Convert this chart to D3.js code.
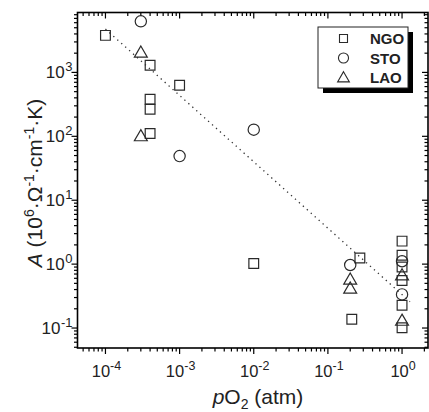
<!DOCTYPE html>
<html><head><meta charset="utf-8">
<script src="https://cdn.jsdelivr.net/npm/d3@7"></script>
<style>body{margin:0;background:#fff}svg{display:block}</style></head>
<body><svg id="c" width="429" height="412"></svg>
<script>
// Data
const ngoX = [1e-4, 4e-4, 1e-3, 4e-4, 4e-4, 4e-4, 0.01, 0.27, 0.21, 1, 1, 1, 1, 1, 1];
const ngoY = [3800, 1290, 630, 380, 265, 111, 1.02, 1.25, 0.137, 2.29, 1.38, 0.9, 0.556, 0.228, 0.101];
const stoX = [3e-4, 1e-3, 0.01, 0.2, 1, 1];
const stoY = [6300, 49, 127, 0.97, 1.11, 0.336];
const laoX = [3e-4, 3e-4, 0.2, 0.2, 1, 1];
const laoY = [2050, 101, 0.577, 0.417, 0.67, 0.131];
const fitX = [1e-4, 1.28];
const fitY = [4770, 0.258];
const xTickExp = [-4, -3, -2, -1, 0];
const yTickExp = [-1, 0, 1, 2, 3];
const legendNames = ["NGO", "STO", "LAO"];

const svg = d3.select("#c");
const L = 77.5, R = 428, T = 12.5, B = 348;
const x = d3.scaleLog().domain([Math.pow(10, -4.377), Math.pow(10, 0.35)]).range([L, R]);
const y = d3.scaleLog().domain([Math.pow(10, -1.3125), Math.pow(10, 3.9375)]).range([B, T]);
const ink = "#2a2a2a";

function logTicks(scale) {
  const [a, b] = scale.domain();
  const out = [];
  for (let e = Math.floor(Math.log10(a)); e <= Math.ceil(Math.log10(b)); e++) {
    for (let m = 1; m <= 9; m++) {
      const v = m * Math.pow(10, e);
      if (v >= a && v <= b) out.push({v, major: m === 1});
    }
  }
  return out;
}
const xt = logTicks(x), yt = logTicks(y);
const g = svg.append("g").attr("stroke", "#000").attr("stroke-width", 1.2);
xt.forEach(t => {
  const px = x(t.v);
  g.append("line").attr("x1", px).attr("x2", px).attr("y1", B).attr("y2", B + (t.major ? 6 : 3.5));
  g.append("line").attr("x1", px).attr("x2", px).attr("y1", T).attr("y2", T + (t.major ? 6 : 3.5));
});
yt.forEach(t => {
  const py = y(t.v);
  g.append("line").attr("y1", py).attr("y2", py).attr("x1", L).attr("x2", L - (t.major ? 6 : 3.5));
  g.append("line").attr("y1", py).attr("y2", py).attr("x1", R).attr("x2", R - (t.major ? 6 : 3.5));
});
svg.append("rect").attr("x", L).attr("y", T).attr("width", R - L).attr("height", B - T)
  .attr("fill", "none").attr("stroke", "#000").attr("stroke-width", 1.6);

const font = "Liberation Sans, Arial, sans-serif";
xTickExp.forEach(e => {
  const t = svg.append("text").attr("x", x(Math.pow(10, e)) + 1).attr("y", 377)
    .attr("text-anchor", "middle").attr("font-family", font).attr("font-size", 16.5).attr("fill", "#222");
  t.append("tspan").text("10");
  t.append("tspan").attr("dy", -7.5).attr("font-size", 12.5).text(e);
});
yTickExp.forEach(e => {
  const t = svg.append("text").attr("x", 72.5).attr("y", y(Math.pow(10, e)) + 6)
    .attr("text-anchor", "end").attr("font-family", font).attr("font-size", 17).attr("fill", "#222");
  t.append("tspan").text("10");
  t.append("tspan").attr("dy", -7.5).attr("font-size", 13).attr("dx", 0.5).text(e);
});

const xl = svg.append("text").attr("x", 258).attr("y", 404).attr("text-anchor", "middle")
  .attr("font-family", font).attr("font-size", 21).attr("fill", "#222");
xl.append("tspan").attr("font-style", "italic").text("p");
xl.append("tspan").text("O");
xl.append("tspan").attr("font-size", 14).attr("dy", 5).text("2");
xl.append("tspan").attr("dy", -5).text(" (atm)");

const yl = svg.append("text").attr("transform", "translate(42,183) rotate(-90)").attr("text-anchor", "middle")
  .attr("font-family", font).attr("font-size", 21).attr("fill", "#222");
yl.append("tspan").attr("font-style", "italic").text("A");
yl.append("tspan").text(" (10");
yl.append("tspan").attr("font-size", 14).attr("dy", -8).text("6");
yl.append("tspan").attr("dy", 8).text("·Ω");
yl.append("tspan").attr("font-size", 14).attr("dy", -8).text("-1");
yl.append("tspan").attr("dy", 8).text("·cm");
yl.append("tspan").attr("font-size", 14).attr("dy", -8).text("-1");
yl.append("tspan").attr("dy", 8).text("·K)");

svg.append("path").datum(fitX.map((v, i) => [v, fitY[i]]))
  .attr("d", d3.line().x(d => x(d[0])).y(d => y(d[1])))
  .attr("stroke", "#333").attr("stroke-width", 1.3).attr("stroke-dasharray", "1.3,4").attr("fill", "none");

const mk = {
  sq: d3.symbol().type(d3.symbolSquare).size(95),
  ci: d3.symbol().type(d3.symbolCircle).size(100),
  tr: d3.symbol().type(d3.symbolTriangle).size(72)
};
function plot(xs, ys, sym, dy) {
  svg.append("g").selectAll("path").data(xs.map((v, i) => [v, ys[i]])).join("path")
    .attr("transform", d => `translate(${x(d[0])},${y(d[1]) + (dy || 0)})`)
    .attr("d", sym).attr("fill", "none").attr("stroke", ink).attr("stroke-width", 1.2);
}
plot(ngoX, ngoY, mk.sq);
plot(stoX, stoY, mk.ci);
plot(laoX, laoY, mk.tr, 1);

svg.append("rect").attr("x", 323).attr("y", 32).attr("width", 90).attr("height", 61).attr("fill", "#000");
svg.append("rect").attr("x", 318).attr("y", 27).attr("width", 90).attr("height", 61)
  .attr("fill", "#fff").attr("stroke", "#222").attr("stroke-width", 1);
const lsyms = [d3.symbol().type(d3.symbolSquare).size(64), d3.symbol().type(d3.symbolCircle).size(80), d3.symbol().type(d3.symbolTriangle).size(60)];
legendNames.forEach((n, i) => {
  const cy = 38.5 + i * 19.5;
  svg.append("path").attr("transform", `translate(343.5,${cy + (i === 2 ? 1 : 0)})`).attr("d", lsyms[i])
    .attr("fill", "none").attr("stroke", ink).attr("stroke-width", 1.1);
  svg.append("text").attr("x", 370).attr("y", cy + 5.5).attr("font-family", font)
    .attr("font-size", 15).attr("font-weight", "bold").attr("fill", "#222").text(n);
});
</script></body></html>
